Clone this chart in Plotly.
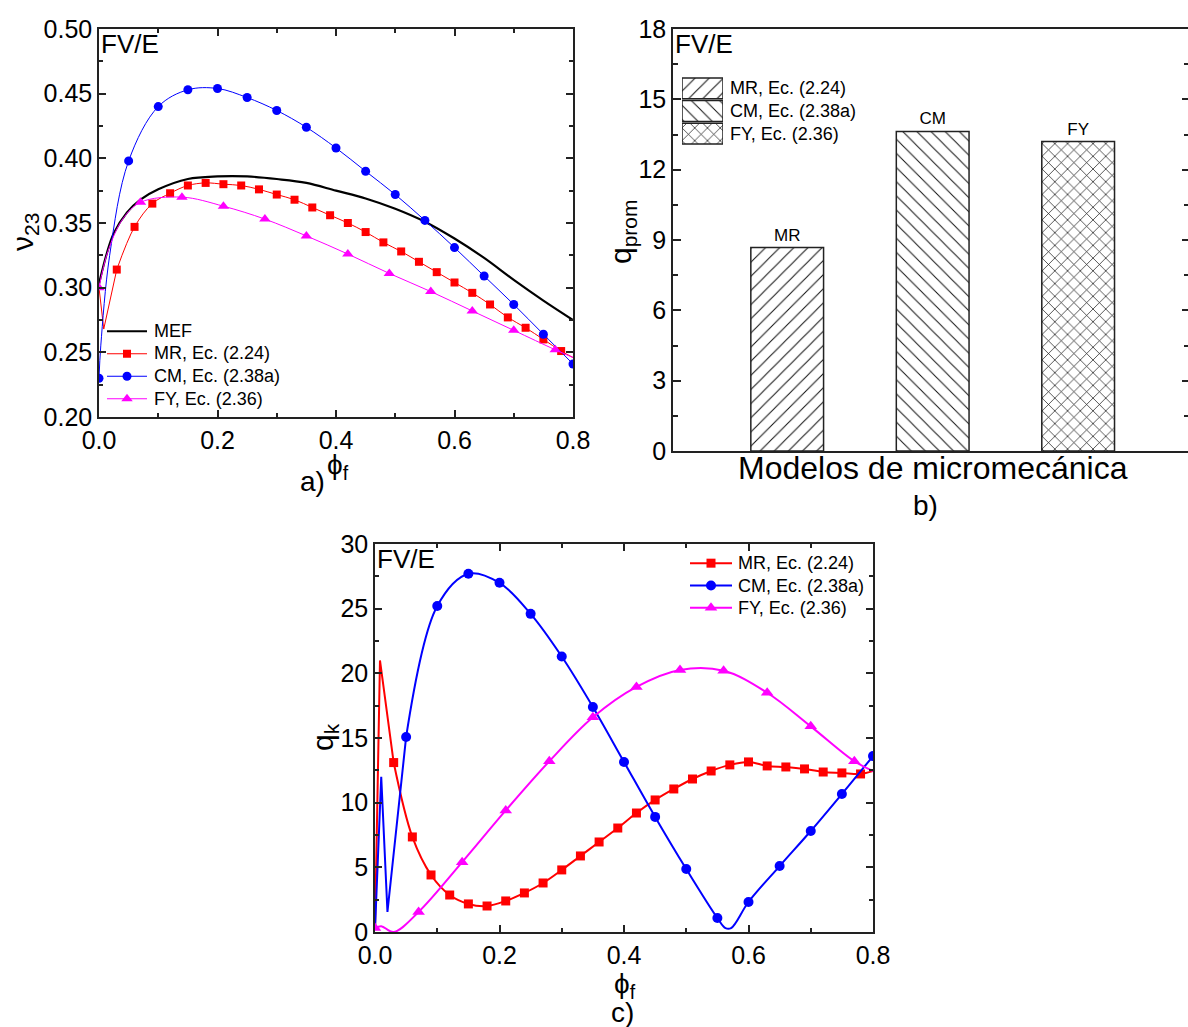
import plotly.graph_objects as go

W, H = 1188, 1027
def px(x): return x / W
def py(y): return 1 - y / H

FONT = "Liberation Sans, Arial, sans-serif"
RED, BLUE, MAG = "#FF0000", "#0000FF", "#FF00FF"

# ---------------- Panel a data (nu_23 vs phi_f) ----------------
mef_phi = [0.0, 0.0135, 0.025, 0.047, 0.07, 0.10, 0.15, 0.20, 0.25, 0.30, 0.35, 0.40,
           0.45, 0.50, 0.55, 0.60, 0.65, 0.70, 0.75, 0.80]
mef_nu = [0.303, 0.327, 0.342, 0.358, 0.368, 0.376, 0.384, 0.386, 0.386, 0.384, 0.381, 0.375,
          0.369, 0.361, 0.351, 0.338, 0.323, 0.306, 0.290, 0.275]

mr_a_phi = [0.03, 0.06, 0.09, 0.12, 0.15, 0.18, 0.21, 0.24, 0.27, 0.30, 0.33, 0.36, 0.39,
            0.42, 0.45, 0.48, 0.51, 0.54, 0.57, 0.60, 0.63, 0.66, 0.69, 0.72, 0.75, 0.78]
mr_a_nu = [0.314, 0.347, 0.365, 0.373, 0.379, 0.381, 0.380, 0.379, 0.376, 0.372, 0.368, 0.362,
           0.356, 0.350, 0.343, 0.335, 0.328, 0.320, 0.312, 0.304, 0.296, 0.287, 0.277, 0.269,
           0.260, 0.251]
mr_a_lead_phi = [0.0, 0.008]
mr_a_lead_nu = [0.300, 0.268]
mr_a_end_phi = [0.80]
mr_a_end_nu = [0.246]

cm_a_phi = [0.0, 0.05, 0.10, 0.15, 0.20, 0.25, 0.30, 0.35, 0.40, 0.45, 0.50, 0.55, 0.60,
            0.65, 0.70, 0.75, 0.80]
cm_a_nu = [0.230, 0.398, 0.440, 0.453, 0.454, 0.447, 0.437, 0.424, 0.408, 0.390, 0.372, 0.352,
           0.331, 0.309, 0.287, 0.264, 0.241]
cm_a_extra_phi = [0.003, 0.018]
cm_a_extra_nu = [0.255, 0.325]

fy_a_phi = [0.0, 0.07, 0.14, 0.21, 0.28, 0.35, 0.42, 0.49, 0.56, 0.63, 0.70, 0.77]
fy_a_nu = [0.300, 0.366, 0.370, 0.363, 0.353, 0.340, 0.326, 0.311, 0.297, 0.282, 0.267, 0.252]
fy_a_extra_phi = [0.015, 0.04, 0.80]
fy_a_extra_nu = [0.328, 0.353, 0.246]

legend_a_names = ["MEF", "MR, Ec. (2.24)", "CM, Ec. (2.38a)", "FY, Ec. (2.36)"]

# ---------------- Panel b data (q_prom bars) ----------------
models = ["MR", "CM", "FY"]
model_pos = [1, 2, 3]
q_prom = [8.68, 13.63, 13.20]
model_labels = ["MR, Ec. (2.24)", "CM, Ec. (2.38a)", "FY, Ec. (2.36)"]
model_patterns = ["/", "\\", "x"]

# ---------------- Panel c data (q_k vs phi_f) ----------------
mr_c_phi = mr_a_phi
mr_c_q = [13.1, 7.35, 4.41, 2.86, 2.17, 2.01, 2.40, 3.02, 3.79, 4.80, 5.88, 6.96, 8.04,
          9.20, 10.21, 11.06, 11.83, 12.45, 12.92, 13.15, 12.84, 12.76, 12.61, 12.37, 12.30, 12.22]
mr_c_lead_phi = [0.0, 0.008]
mr_c_lead_q = [0.2, 21.0]
mr_c_end_phi = [0.80]
mr_c_end_q = [12.45]

cm_c_phi = [0.05, 0.10, 0.15, 0.20, 0.25, 0.30, 0.35, 0.40, 0.45, 0.50, 0.55, 0.60, 0.65,
            0.70, 0.75, 0.80]
cm_c_q = [15.08, 25.2, 27.7, 27.0, 24.6, 21.3, 17.4, 13.15, 8.9, 4.87, 1.08, 2.32, 5.1,
          7.81, 10.67, 13.6]
cm_c_lead_phi = [0.0, 0.01, 0.02]
cm_c_lead_q = [0.2, 12.0, 1.55]
cm_c_extra_phi = [0.563, 0.572]
cm_c_extra_q = [0.3, 0.3]

fy_c_phi = [0.0, 0.07, 0.14, 0.21, 0.28, 0.35, 0.42, 0.49, 0.56, 0.63, 0.70, 0.77]
fy_c_q = [0.3, 1.55, 5.4, 9.4, 13.2, 16.6, 18.95, 20.26, 20.2, 18.5, 15.9, 13.2]
fy_c_extra_phi = [0.01, 0.03, 0.80]
fy_c_extra_q = [0.45, 0.0, 12.45]

legend_c_names = ["MR, Ec. (2.24)", "CM, Ec. (2.38a)", "FY, Ec. (2.36)"]


def merged(xa, ya, xb, yb):
    pts = sorted(zip(list(xa) + list(xb), list(ya) + list(yb)))
    return [p[0] for p in pts], [p[1] for p in pts]


fig = go.Figure()


def add_series(xline, yline, xm, ym, color, symbol, msize, lw, xa, ya, shape="spline"):
    fig.add_trace(go.Scatter(x=xline, y=yline, mode="lines",
                             line=dict(color=color, width=lw, shape=shape),
                             showlegend=False, xaxis=xa, yaxis=ya, hoverinfo="skip"))
    if xm is not None:
        fig.add_trace(go.Scatter(x=xm, y=ym, mode="markers",
                                 marker=dict(color=color, symbol=symbol, size=msize, line=dict(width=0)),
                                 showlegend=False, xaxis=xa, yaxis=ya))


def add_legend_sample(row, color, symbol, msize, lw, xa, ya):
    fig.add_trace(go.Scatter(x=[0, 1], y=[row, row], mode="lines", line=dict(color=color, width=lw),
                             showlegend=False, xaxis=xa, yaxis=ya, hoverinfo="skip"))
    if symbol:
        fig.add_trace(go.Scatter(x=[0.5], y=[row], mode="markers",
                                 marker=dict(color=color, symbol=symbol, size=msize, line=dict(width=0)),
                                 showlegend=False, xaxis=xa, yaxis=ya, hoverinfo="skip"))


# ---- Panel a traces ----
add_series(mef_phi, mef_nu, None, None, "black", None, 0, 2.2, "x", "y")
add_series(mr_a_lead_phi + [mr_a_phi[0]], mr_a_lead_nu + [mr_a_nu[0]], None, None, RED, None, 0, 1,
           "x", "y", shape="linear")
add_series(mr_a_phi + mr_a_end_phi, mr_a_nu + mr_a_end_nu, mr_a_phi, mr_a_nu, RED, "square", 8, 1,
           "x", "y")
xl, yl = merged(cm_a_phi, cm_a_nu, cm_a_extra_phi, cm_a_extra_nu)
add_series(xl, yl, cm_a_phi, cm_a_nu, BLUE, "circle", 9, 1, "x", "y")
xl, yl = merged(fy_a_phi, fy_a_nu, fy_a_extra_phi, fy_a_extra_nu)
add_series(xl, yl, fy_a_phi, fy_a_nu, MAG, "triangle-up", 10, 1, "x", "y")

for i, (col, sym, ms, lw) in enumerate([("black", None, 0, 2.2), (RED, "square", 8, 1),
                                       (BLUE, "circle", 9, 1), (MAG, "triangle-up", 10, 1)]):
    add_legend_sample(i, col, sym, ms, lw, "x6", "y6")

# ---- Panel b bars ----
PAT = dict(fgcolor="#111", bgcolor="white", fgopacity=1, size=[10, 10, 9], solidity=[0.1, 0.1, 0.15])
fig.add_trace(go.Bar(x=model_pos, y=q_prom, width=0.5, text=models, textposition="outside",
                     textfont=dict(size=17, color="black", family=FONT), cliponaxis=False,
                     marker=dict(color="white", line=dict(color="#222", width=1.5),
                                 pattern=dict(PAT, shape=model_patterns)),
                     showlegend=False, xaxis="x2", yaxis="y2"))
fig.add_trace(go.Bar(x=[1, 1, 1], y=[0, 1, 2], orientation="h", width=0.92,
                     marker=dict(color="white", line=dict(color="#222", width=1.5),
                                 pattern=dict(PAT, shape=model_patterns)),
                     showlegend=False, xaxis="x4", yaxis="y4", hoverinfo="skip"))
fig.add_trace(go.Scatter(x=[None], y=[None], showlegend=False, xaxis="x2", yaxis="y5"))

# ---- Panel c traces ----
add_series(mr_c_lead_phi + [mr_c_phi[0]], mr_c_lead_q + [mr_c_q[0]], None, None, RED, None, 0, 2,
           "x3", "y3", shape="linear")
add_series(mr_c_phi + mr_c_end_phi, mr_c_q + mr_c_end_q, mr_c_phi, mr_c_q, RED, "square", 9, 2,
           "x3", "y3")
add_series(cm_c_lead_phi + [cm_c_phi[0]], cm_c_lead_q + [cm_c_q[0]], None, None, BLUE, None, 0, 2,
           "x3", "y3", shape="linear")
xl, yl = merged(cm_c_phi, cm_c_q, cm_c_extra_phi, cm_c_extra_q)
add_series(xl, yl, cm_c_phi, cm_c_q, BLUE, "circle", 10, 2, "x3", "y3")
xl, yl = merged(fy_c_phi, fy_c_q, fy_c_extra_phi, fy_c_extra_q)
add_series(xl, yl, fy_c_phi, fy_c_q, MAG, "triangle-up", 11, 2, "x3", "y3")

for i, (col, sym, ms) in enumerate([(RED, "square", 9), (BLUE, "circle", 10), (MAG, "triangle-up", 11)]):
    add_legend_sample(i, col, sym, ms, 2, "x7", "y7")

# ---------------- axes ----------------
AX = dict(showgrid=False, zeroline=False, showline=True, linecolor="#222", linewidth=1.5,
          tickcolor="#222", tickwidth=1.5, automargin=False,
          tickfont=dict(size=25, family=FONT, color="black"))
MIN_IN = dict(ticks="inside", ticklen=4, tickcolor="#222", tickwidth=1.5)
HIDDEN = dict(visible=False, fixedrange=True, automargin=False, showgrid=False, zeroline=False)

fig.update_layout(
    width=W, height=H, margin=dict(l=0, r=0, t=0, b=0, autoexpand=False),
    paper_bgcolor="white", plot_bgcolor="rgba(0,0,0,0)",
    font=dict(family=FONT, color="black"),
    showlegend=False,
    xaxis=dict(AX, domain=[px(99), px(573)], anchor="y", range=[0, 0.8], dtick=0.2, tickformat=".1f",
               ticks="inside", ticklen=7, mirror="ticks", minor=dict(MIN_IN, dtick=0.1)),
    yaxis=dict(AX, domain=[py(417), py(29)], anchor="x", range=[0.2, 0.5], dtick=0.05, tickformat=".2f",
               ticks="inside", ticklen=7, mirror="ticks", minor=dict(MIN_IN, dtick=0.025)),
    xaxis2=dict(AX, domain=[px(673), 1.0], anchor="y2", range=[0.215, 3.755], ticks="",
                showticklabels=False, mirror=True),
    yaxis2=dict(AX, domain=[py(451), py(29)], anchor="x2", range=[0, 18], dtick=3,
                ticks="inside", ticklen=8, mirror=False,
                minor=dict(MIN_IN, dtick=1.5, ticklen=5)),
    yaxis5=dict(AX, overlaying="y2", side="right", anchor="x2", range=[0, 18], dtick=3,
                showline=False, ticks="inside", ticklen=6, showticklabels=False,
                minor=dict(MIN_IN, dtick=1.5)),
    xaxis3=dict(AX, domain=[px(375), px(873)], anchor="y3", range=[0, 0.8], dtick=0.2, tickformat=".1f",
                ticks="inside", ticklen=7, mirror="ticks", minor=dict(MIN_IN, dtick=0.1)),
    yaxis3=dict(AX, domain=[py(932), py(544)], anchor="x3", range=[0, 30], dtick=5,
                ticks="inside", ticklen=7, mirror="ticks", minor=dict(MIN_IN, dtick=2.5)),
    xaxis4=dict(HIDDEN, domain=[px(682), px(723)], anchor="y4", range=[0, 1]),
    yaxis4=dict(HIDDEN, domain=[py(145), py(77)], anchor="x4", range=[2.5, -0.5]),
    xaxis6=dict(HIDDEN, domain=[px(107), px(147)], anchor="y6", range=[0, 1]),
    yaxis6=dict(HIDDEN, domain=[py(410), py(320)], anchor="x6", range=[3.5, -0.5]),
    xaxis7=dict(HIDDEN, domain=[px(690), px(732)], anchor="y7", range=[0, 1]),
    yaxis7=dict(HIDDEN, domain=[py(619), py(552)], anchor="x7", range=[2.5, -0.5]),
)

ann = []
def text(t, x, y, size, xanchor="center", angle=0):
    ann.append(dict(text=t, x=px(x), y=py(y), xref="paper", yref="paper", showarrow=False,
                    xanchor=xanchor, yanchor="middle", textangle=angle,
                    font=dict(size=size, family=FONT, color="black")))

text("FV/E", 99, 44, 26, "left")
text("FV/E", 673, 44, 26, "left")
text("FV/E", 375, 559, 26, "left")
text("ν<sub>23</sub>", 24, 232, 30, angle=-90)
text("ϕ<sub>f</sub>", 338, 466, 28)
text("a)", 312, 481, 28)
text("q<sub>prom</sub>", 622, 232, 30, angle=-90)
text("Modelos de micromecánica", 933, 468, 32)
text("b)", 925, 505, 28)
text("q<sub>k</sub>", 324, 737, 30, angle=-90)
text("ϕ<sub>f</sub>", 625, 985, 28)
text("c)", 622, 1012, 28)
for lbl, yy in zip(model_labels, [88, 111, 134]):
    text(lbl, 728, yy, 18, "left")
for lbl, yy in zip(legend_a_names, [331, 353, 376, 399]):
    text(lbl, 152, yy, 18, "left")
for lbl, yy in zip(legend_c_names, [563, 586, 608]):
    text(lbl, 736, yy, 18, "left")

fig.update_layout(annotations=ann)
fig.write_html("out.html")
